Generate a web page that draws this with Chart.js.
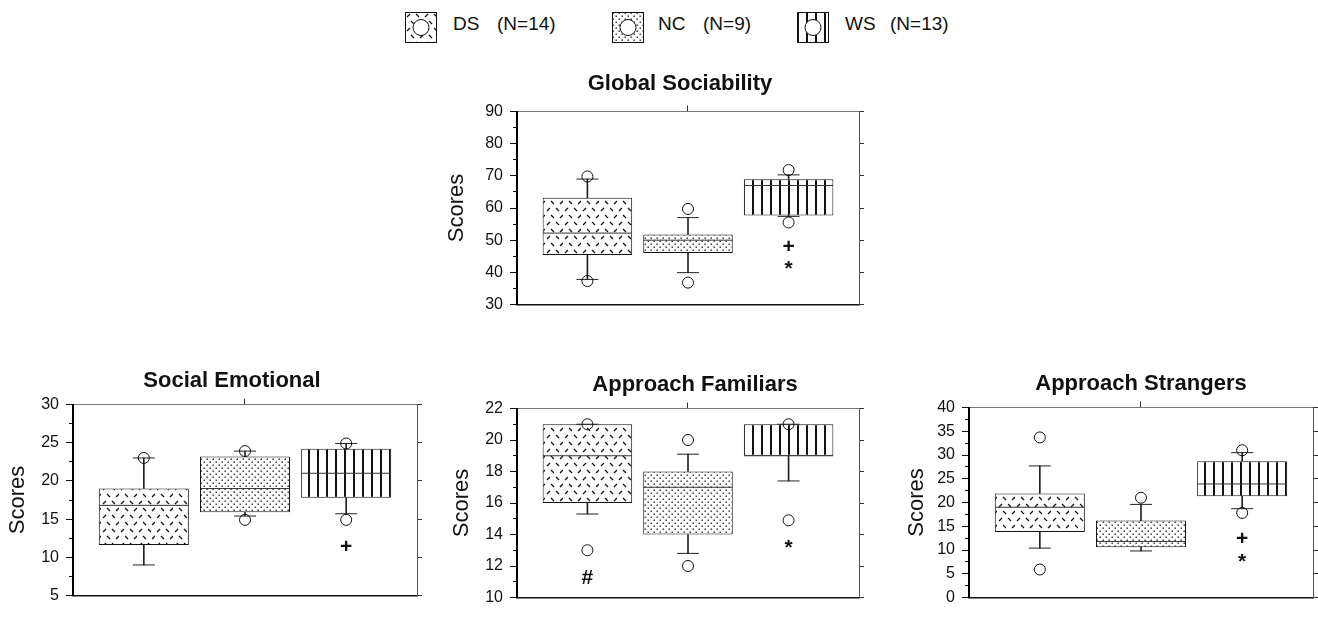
<!DOCTYPE html>
<html>
<head>
<meta charset="utf-8">
<script src="https://cdn.jsdelivr.net/npm/chart.js@4.4.1/dist/chart.umd.min.js"></script>
<style>
  body { margin: 0; width: 1318px; height: 644px; overflow: hidden; background: #fff; position: relative;
         font-family: "Liberation Sans", Arial, sans-serif; color: #111; }
  canvas.panel { position: absolute; }
  canvas.sw { position: absolute; top: 12px; }
  .lt { position: absolute; top: 13px; font-size: 19px; line-height: 22px; white-space: pre; }
</style>
</head>
<body>
<script>
// groups
const groups = ['DS', 'NC', 'WS'];
const groupN = [14, 9, 13];

// Global Sociability
const gsTicks = [30, 40, 50, 60, 70, 80, 90];
const gsQ1 = [45.4, 46.0, 57.7];
const gsQ3 = [63.2, 51.8, 68.9];
const gsMed = [52.2, 50.0, 67.0];
const gsLow = [37.8, 39.9, 57.4];
const gsHigh = [69.0, 57.0, 70.3];
const gsOut = [[69.8, 37.3], [59.7, 36.8], [71.8, 55.5]];
const gsMarks = [{ g: 'WS', v: 48.2, s: '+' }, { g: 'WS', v: 42.3, s: '*' }];

// Social Emotional
const seTicks = [5, 10, 15, 20, 25, 30];
const seQ1 = [11.6, 15.9, 17.8];
const seQ3 = [19.0, 23.2, 24.2];
const seMed = [16.8, 19.0, 21.0];
const seLow = [9.0, 15.4, 15.7];
const seHigh = [23.0, 23.9, 24.9];
const seOut = [[23.0], [23.9, 14.9], [24.9, 14.9]];
const seMarks = [{ g: 'WS', v: 11.5, s: '+' }];

// Approach Familiars
const afTicks = [10, 12, 14, 16, 18, 20, 22];
const afQ1 = [16.0, 14.0, 19.0];
const afQ3 = [21.0, 18.0, 21.0];
const afMed = [19.0, 17.0, 19.0];
const afLow = [15.3, 12.8, 17.4];
const afHigh = [21.0, 19.1, 21.0];
const afOut = [[21.0, 13.0], [20.0, 12.0], [21.0, 14.9]];
const afMarks = [{ g: 'DS', v: 11.3, s: '#' }, { g: 'WS', v: 13.4, s: '*' }];

// Approach Strangers
const asTicks = [0, 5, 10, 15, 20, 25, 30, 35, 40];
const asQ1 = [13.8, 10.6, 21.3];
const asQ3 = [21.9, 16.2, 28.7];
const asMed = [19.0, 11.8, 23.9];
const asLow = [10.4, 9.8, 18.7];
const asHigh = [27.7, 19.6, 30.5];
const asOut = [[33.7, 5.9], [21.0], [31.0, 17.8]];
const asMarks = [{ g: 'WS', v: 12.6, s: '+' }, { g: 'WS', v: 8.4, s: '*' }];

const FONT = '"Liberation Sans", Arial, sans-serif';
Chart.defaults.font.family = FONT;
Chart.defaults.color = '#111';
Chart.defaults.animation = false;

// fill patterns
function makePattern(kind) {
  const t = document.createElement('canvas');
  const c = t.getContext('2d');
  if (kind === 'DS') {
    t.width = 18; t.height = 14;
    c.fillStyle = '#fff'; c.fillRect(0, 0, 18, 14);
    c.strokeStyle = '#111'; c.lineWidth = 1.3;
    const seg = (a, b, e, f) => { c.beginPath(); c.moveTo(a, b); c.lineTo(e, f); c.stroke(); };
    seg(2, 5, 5, 2); seg(11, 2, 14, 5);
    seg(6, 9, 9, 12); seg(15, 12, 18, 9);
  } else if (kind === 'NC') {
    t.width = 6; t.height = 6;
    c.fillStyle = '#fff'; c.fillRect(0, 0, 6, 6);
    c.fillStyle = '#222';
    c.fillRect(0.5, 0.5, 1.4, 1.4); c.fillRect(3.5, 3.5, 1.4, 1.4);
  } else {
    t.width = 9; t.height = 4;
    c.fillStyle = '#fff'; c.fillRect(0, 0, 9, 4);
    c.fillStyle = '#111'; c.fillRect(0, 0, 2, 4);
  }
  return c.createPattern(t, 'repeat');
}
const patterns = groups.map(makePattern);

// legend
const legX = [[405, 453, 497], [612, 658, 703], [797, 845, 890]];
groups.forEach((g, i) => {
  const sw = document.createElement('canvas');
  sw.className = 'sw'; sw.width = 32; sw.height = 31; sw.style.left = legX[i][0] + 'px';
  document.body.appendChild(sw);
  const c = sw.getContext('2d');
  c.fillStyle = patterns[i]; c.fillRect(0, 0, 32, 31);
  c.beginPath(); c.arc(16, 15.5, 8, 0, Math.PI * 2);
  c.fillStyle = '#fff'; c.fill(); c.strokeStyle = '#111'; c.lineWidth = 1; c.stroke();
  c.strokeRect(0.5, 0.5, 31, 30);
  [g, '(N=' + groupN[i] + ')'].forEach((txt, k) => {
    const d = document.createElement('div');
    d.className = 'lt'; d.textContent = txt; d.style.left = legX[i][k + 1] + 'px';
    document.body.appendChild(d);
  });
});

const marksPlugin = {
  id: 'marks',
  afterDatasetsDraw(chart, args, opts) {
    const { ctx, scales: { x, y } } = chart;
    ctx.save();
    ctx.font = 'bold 21px ' + FONT;
    ctx.fillStyle = '#111'; ctx.textAlign = 'center'; ctx.textBaseline = 'alphabetic';
    (opts.items || []).forEach(m => {
      const px = x.getPixelForValue(groups.indexOf(m.g) + 1);
      const py = y.getPixelForValue(m.v);
      const mt = ctx.measureText(m.s);
      ctx.fillText(m.s, px, py + (mt.actualBoundingBoxAscent - mt.actualBoundingBoxDescent) / 2);
    });
    ctx.restore();
  }
};

function panel(title, pos, d) {
  const cv = document.createElement('canvas');
  cv.className = 'panel';
  document.body.appendChild(cv);
  const leftW = 80, bottomH = 4, topAxisH = 6;
  const above = 2 + 26 + pos.titleGap + topAxisH;
  cv.width = leftW + (pos.r - pos.l) + pos.rightW;
  cv.height = above + (pos.b - pos.t) + bottomH;
  cv.style.left = (pos.l - leftW) + 'px';
  cv.style.top = (pos.t - above) + 'px';

  const xs = groups.map((g, i) => i + 1);
  const minor = [];
  d.ticks.forEach((v, i) => { minor.push(v); if (i < d.ticks.length - 1) minor.push((v + d.ticks[i + 1]) / 2); });
  const yMin = d.ticks[0], yMax = d.ticks[d.ticks.length - 1];

  new Chart(cv, {
    type: 'bar',
    data: {
      datasets: [
        { type: 'scatter', data: d.out.flatMap((vals, i) => vals.map(v => ({ x: xs[i], y: v }))),
          pointStyle: 'circle', pointRadius: 5.5, borderColor: '#111', borderWidth: 1,
          backgroundColor: 'rgba(0,0,0,0)', order: 1, xAxisID: 'x', yAxisID: 'y' },
        { type: 'scatter', data: xs.map((x, i) => ({ x, y: d.med[i] })),
          pointStyle: 'line', pointRadius: 44.5, borderColor: '#333', borderWidth: 1, order: 2, xAxisID: 'x', yAxisID: 'y' },
        { type: 'scatter', data: xs.flatMap((x, i) => [{ x, y: d.low[i] }, { x, y: d.high[i] }]),
          pointStyle: 'line', pointRadius: 11, borderColor: '#222', borderWidth: 1, order: 3, xAxisID: 'x', yAxisID: 'y' },
        { type: 'bar', data: xs.map((x, i) => ({ x, y: [d.q3[i], d.high[i]] })),
          backgroundColor: '#222', barThickness: 1, grouped: false, order: 4, xAxisID: 'x', yAxisID: 'y' },
        { type: 'bar', data: xs.map((x, i) => ({ x, y: [d.low[i], d.q1[i]] })),
          backgroundColor: '#222', barThickness: 1, grouped: false, order: 4, xAxisID: 'x', yAxisID: 'y' },
        { type: 'bar', data: xs.map((x, i) => ({ x, y: [d.q1[i], d.q3[i]] })),
          backgroundColor: patterns, borderColor: '#111', borderWidth: 1, borderSkipped: false,
          barPercentage: 0.89, categoryPercentage: 1, grouped: false, order: 5, xAxisID: 'x', yAxisID: 'y' }
      ]
    },
    options: {
      responsive: false,
      layout: { padding: 0 },
      plugins: {
        legend: { display: false },
        tooltip: { enabled: false },
        title: { display: true, text: title, color: '#111',
                 font: { size: 22, weight: 'bold', lineHeight: '26px' },
                 padding: { top: 2, bottom: pos.titleGap } },
        marks: { items: d.marks }
      },
      scales: {
        x: { type: 'linear', position: 'bottom', min: 0.3, max: 3.7, offset: false,
             afterBuildTicks: s => { s.ticks = xs.map(v => ({ value: v })); },
             ticks: { display: false }, grid: { drawOnChartArea: false, drawTicks: false, offset: false },
             border: { color: '#111', width: 1.5 }, afterFit: s => { s.height = bottomH; } },
        x2: { type: 'linear', position: 'top', min: 0.3, max: 3.7, offset: false,
              afterBuildTicks: s => { s.ticks = [{ value: 2 }]; },
              ticks: { display: false },
              grid: { drawOnChartArea: false, tickLength: topAxisH, color: '#333', offset: false },
              border: { color: '#777', width: 1 }, afterFit: s => { s.height = topAxisH; } },
        y: { type: 'linear', position: 'left', weight: 1, min: yMin, max: yMax,
             afterBuildTicks: s => { s.ticks = d.ticks.map(v => ({ value: v })); },
             ticks: { font: { size: 16 }, color: '#111', padding: 7 },
             grid: { drawOnChartArea: false, tickLength: 7, color: '#111' },
             border: { color: '#000', width: 2 },
             title: { display: true, text: 'Scores', color: '#111',
                      font: { size: 22, lineHeight: '26px' },
                      padding: { top: pos.scoresX - (pos.l - leftW) - 13, bottom: 0 } },
             afterFit: s => { s.width = leftW; } },
        yMinor: { type: 'linear', position: 'left', weight: 0, min: yMin, max: yMax,
                  afterBuildTicks: s => { s.ticks = minor.map(v => ({ value: v })); },
                  ticks: { display: false }, grid: { drawOnChartArea: false, tickLength: 4, color: '#111' },
                  border: { display: false }, afterFit: s => { s.width = 0; } },
        y2: { type: 'linear', position: 'right', min: yMin, max: yMax,
              afterBuildTicks: s => { s.ticks = d.ticks.map(v => ({ value: v })); },
              ticks: { display: false }, grid: { drawOnChartArea: false, tickLength: 5, color: '#333' },
              border: { color: '#555', width: 1 }, afterFit: s => { s.width = pos.rightW; } }
      }
    },
    plugins: [marksPlugin]
  });
}

panel('Global Sociability', { l: 517, r: 859, t: 109, b: 346, titleGap: 9, rightW: 64, scoresX: 457 },
  { ticks: gsTicks, q1: gsQ1, q3: gsQ3, med: gsMed, low: gsLow, high: gsHigh, out: gsOut, marks: gsMarks });
panel('Social Emotional', { l: 73, r: 417, t: 398, b: 637, titleGap: 5, rightW: 54, scoresX: 18 },
  { ticks: seTicks, q1: seQ1, q3: seQ3, med: seMed, low: seLow, high: seHigh, out: seOut, marks: seMarks });
panel('Approach Familiars', { l: 517, r: 859, t: 402, b: 639, titleGap: 5, rightW: 94, scoresX: 462 },
  { ticks: afTicks, q1: afQ1, q3: afQ3, med: afMed, low: afLow, high: afHigh, out: afOut, marks: afMarks });
panel('Approach Strangers', { l: 969, r: 1313, t: 401, b: 639, titleGap: 5, rightW: 80, scoresX: 917 },
  { ticks: asTicks, q1: asQ1, q3: asQ3, med: asMed, low: asLow, high: asHigh, out: asOut, marks: asMarks });
</script>
</body>
</html>
